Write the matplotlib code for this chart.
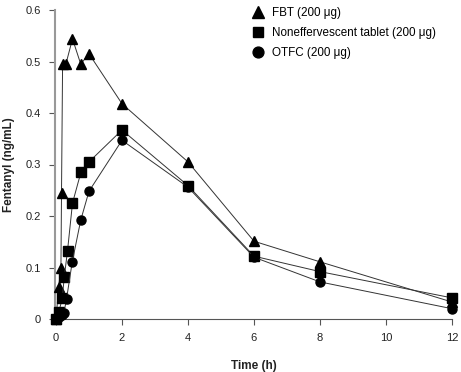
import matplotlib
matplotlib.use("Agg")
import matplotlib.pyplot as plt
from matplotlib.ticker import FuncFormatter

plt.rcParams['font.family'] = ['Liberation Sans', 'DejaVu Sans']

# FBT (200 ug)
fbt_t = [0, 0.083, 0.15, 0.167, 0.2, 0.3, 0.5, 0.75, 1, 2, 4, 6, 8, 12]
fbt_v = [0, 0.063, 0.10, 0.244, 0.495, 0.495, 0.544, 0.495, 0.515, 0.418, 0.305, 0.151, 0.111, 0.033]
# Noneffervescent tablet (200 ug)
ne_t = [0, 0.083, 0.19, 0.25, 0.35, 0.5, 0.76, 1, 2, 4, 6, 8, 12]
ne_v = [0, 0.013, 0.04, 0.081, 0.133, 0.225, 0.286, 0.305, 0.367, 0.259, 0.122, 0.092, 0.041]
# OTFC (200 ug)
ot_t = [0, 0.083, 0.167, 0.24, 0.32, 0.49, 0.75, 1, 2, 4, 6, 8, 12]
ot_v = [0, 0.003, 0.008, 0.012, 0.039, 0.110, 0.192, 0.248, 0.347, 0.256, 0.120, 0.072, 0.020]

labels = ["FBT (200 \u03bcg)", "Noneffervescent tablet (200 \u03bcg)", "OTFC (200 \u03bcg)"]
x_ticks = [0, 2, 4, 6, 8, 10, 12]
y_ticks = [0, 0.1, 0.2, 0.3, 0.4, 0.5, 0.6]

fig = plt.figure(figsize=(4.61, 3.72), dpi=100)
ax = fig.add_axes([55/461, 53/372, (452-55)/461, (319-10)/372])

lc = '#333333'
kw = dict(color=lc, lw=0.7, mfc='black', mec='black', clip_on=False, zorder=3)
ax.plot(fbt_t, fbt_v, marker='^', ms=7.5, label=labels[0], **kw)
ax.plot(ne_t, ne_v, marker='s', ms=6.5, label=labels[1], **kw)
ax.plot(ot_t, ot_v, marker='o', ms=6.5, label=labels[2], **kw)

ax.set_xlim(-0.03, 12)
ax.set_ylim(0, 0.6)
ax.set_xticks(x_ticks)
ax.set_yticks(y_ticks)
ax.yaxis.set_major_formatter(FuncFormatter(lambda v, p: '0' if v == 0 else f'{v:.1f}'))
ax.spines['top'].set_visible(False)
ax.spines['right'].set_visible(False)
ax.spines['left'].set_color('#999999')
ax.spines['left'].set_linewidth(1.5)
ax.spines['bottom'].set_color('#555555')
ax.spines['bottom'].set_linewidth(0.8)
ax.tick_params(direction='out', length=4, width=0.8, color='#555555', labelsize=8, labelcolor='#222222', pad=6)
for sp in ax.spines.values():
    sp.set_clip_on(False)

ax.set_xlabel('Time (h)', fontsize=8.5, fontweight='bold', labelpad=12, color='#222222')
ax.set_ylabel('Fentanyl (ng/mL)', fontsize=8.5, fontweight='bold', labelpad=8, color='#222222')

leg = ax.legend(loc='upper left', bbox_to_anchor=(187/397, 1.045), frameon=False, fontsize=8.4,
                handlelength=1.0, handletextpad=0.7, labelspacing=0.72, markerscale=1.2)
for h in leg.legend_handles:
    h.set_linestyle('none')

fig.savefig('out.png', dpi=100)
